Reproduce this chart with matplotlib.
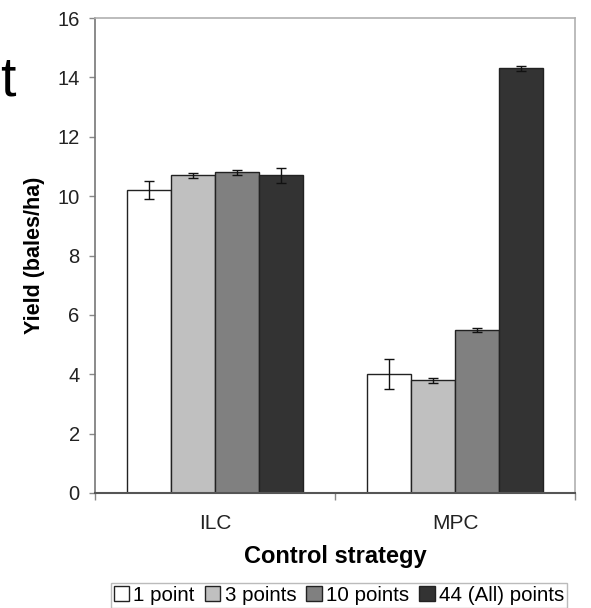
import matplotlib
matplotlib.use("Agg")
import matplotlib.pyplot as plt
import numpy as np

plt.rcParams['font.family'] = ['Liberation Sans', 'DejaVu Sans']

categories = ["ILC", "MPC"]
series_labels = ["1 point", "3 points", "10 points", "44 (All) points"]
values = [
    [10.2, 4.0],
    [10.7, 3.8],
    [10.8, 5.5],
    [10.7, 14.3],
]
errors = [
    [0.30, 0.50],
    [0.08, 0.08],
    [0.08, 0.07],
    [0.25, 0.07],
]
colors = ["#ffffff", "#c0c0c0", "#808080", "#333333"]
yticks = [0, 2, 4, 6, 8, 10, 12, 14, 16]

fig = plt.figure(figsize=(5.91, 6.08), dpi=100)
ax = fig.add_axes([95/591, 1 - 493/608, 480/591, 475/608])

x = np.arange(len(categories))
n = len(series_labels)
width = 0.73 / n
for i in range(n):
    offs = (i - (n - 1) / 2) * width
    ax.bar(x + offs, values[i], width, color=colors[i], edgecolor="#222222",
           linewidth=1.0, label=series_labels[i], zorder=2)
    ax.errorbar(x + offs, values[i], yerr=errors[i], fmt="none", ecolor="#111111",
                elinewidth=1.0, capsize=3.5, capthick=1.0, zorder=3)

ax.set_xlim(-0.5, 1.5)
ax.set_ylim(0, 16)
ax.set_yticks(yticks)
ax.set_yticklabels([str(t) for t in yticks], fontsize=14.5, color="#222222")
ax.tick_params(axis='y', length=4, width=1, color="#888888", pad=7)

ax.set_xticks([-0.5, 0.5, 1.5])
ax.set_xticklabels([])
ax.tick_params(axis='x', which='major', length=5, width=1, color="#888888")
ax.set_xticks(x, minor=True)
ax.set_xticklabels(categories, minor=True, fontsize=15, color="#222222")
ax.tick_params(axis='x', which='minor', length=0, pad=15)

ax.set_ylabel("Yield (bales/ha)", fontsize=15.5, fontweight='bold', labelpad=9)
ax.set_xlabel("Control strategy", fontsize=17, fontweight='bold', labelpad=9)

for side in ['top', 'right']:
    ax.spines[side].set_color("#b0b0b0")
    ax.spines[side].set_linewidth(1.2)
ax.spines['left'].set_color("#777777")
ax.spines['bottom'].set_color("#555555")
ax.spines['left'].set_linewidth(1.2)
ax.spines['bottom'].set_linewidth(1.5)

leg = fig.legend(loc='upper center', bbox_to_anchor=(339/591, 1 - 583/608), ncol=4,
                 fontsize=14.8, frameon=True, fancybox=False, edgecolor="#aaaaaa",
                 handlelength=0.75, handleheight=0.75, handletextpad=0.2,
                 columnspacing=0.5, borderpad=0.15, borderaxespad=0)
leg.get_frame().set_linewidth(1.0)

fig.text(0.0, 1 - 81/608, "t", fontsize=40, va='center', ha='left', color="#000000")

fig.savefig("out.png", dpi=100)
